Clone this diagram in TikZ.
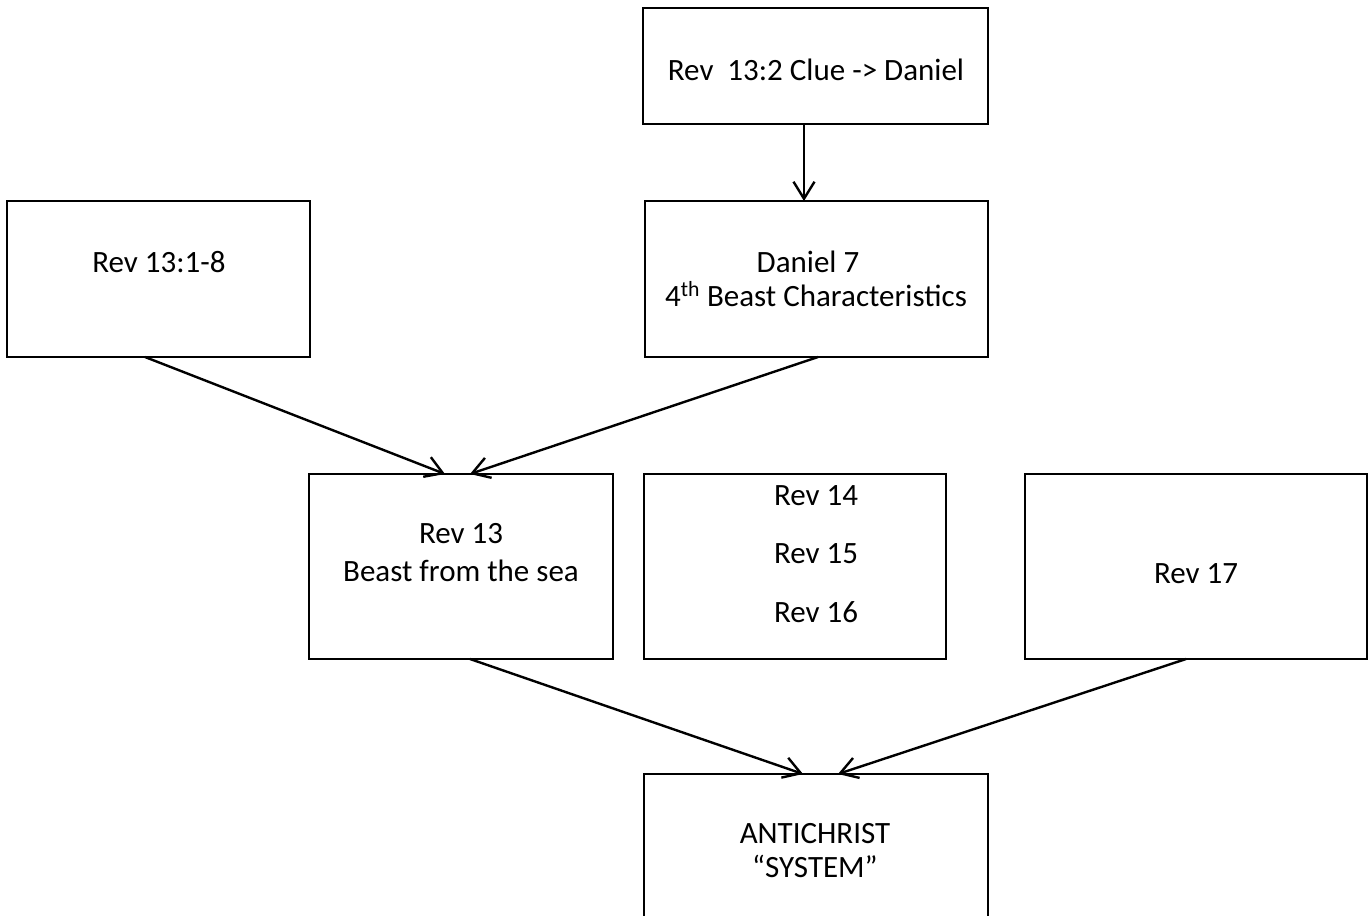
\documentclass[tikz,border=0pt]{standalone}
\usepackage{fontspec}
\setmainfont{Carlito}
\usetikzlibrary{arrows.meta,calc}
\begin{document}
\begin{tikzpicture}[x=1pt,y=-1pt,
  box/.style={draw, line width=2.6pt, inner sep=0pt, outer sep=0pt},
  txt/.style={anchor=base, inner sep=0pt, font=\fontsize{31}{37}\selectfont},
  arr/.style={line width=2.4pt, -{Straight Barb[length=17pt,width=21pt,line width=2.4pt]}}]
\useasboundingbox (0,0) rectangle (1369,916);
% boxes
\node[box, minimum width=345pt, minimum height=116pt] (b1) at (815.5,66) {};
\node[box, minimum width=303pt, minimum height=156pt] (b2) at (158.5,279) {};
\node[box, minimum width=343pt, minimum height=156pt] (b3) at (816.5,279) {};
\node[box, minimum width=304pt, minimum height=185pt] (b4) at (461,566.5) {};
\node[box, minimum width=302pt, minimum height=185pt] (b5) at (795,566.5) {};
\node[box, minimum width=342pt, minimum height=185pt] (b6) at (1196,566.5) {};
\node[box, minimum width=344pt, minimum height=166pt] (b7) at (816,857) {};
% texts
\node[txt] (t1) at (816,80) {Rev\ \ 13:2 Clue -> Daniel};
\node[txt] (t2) at (159,272) {Rev 13:1-8};
\node[txt] (t3a) at (808,272) {Daniel 7};
\node[txt] (t3b) at (816,306) {4\textsuperscript{th} Beast Characteristics};
\node[txt] (t4a) at (461,543) {Rev 13};
\node[txt] (t4b) at (461,581) {Beast from the sea};
\node[txt] (t5a) at (816,505) {Rev 14};
\node[txt] (t5b) at (816,563) {Rev 15};
\node[txt] (t5c) at (816,622) {Rev 16};
\node[txt] (t6) at (1196,583) {Rev 17};
\node[txt] (t7a) at (815,843) {ANTICHRIST};
\node[txt] (t7b) at (815,877) {“SYSTEM”};
% connectors
\draw[arr] ($(b1.south west)+(161,0)$) -- ($(b3.north west)+(159,0)$);
\draw[arr] ($(b2.south west)+(138,0)$) -- ($(b4.north west)+(136,0)$);
\draw[arr] ($(b3.south west)+(173,0)$) -- ($(b4.north west)+(161,0)$);
\draw[arr] ($(b4.south west)+(161,0)$) -- ($(b7.north west)+(159,0)$);
\draw[arr] ($(b6.south west)+(161,0)$) -- ($(b7.north west)+(194,0)$);
\end{tikzpicture}
\end{document}
